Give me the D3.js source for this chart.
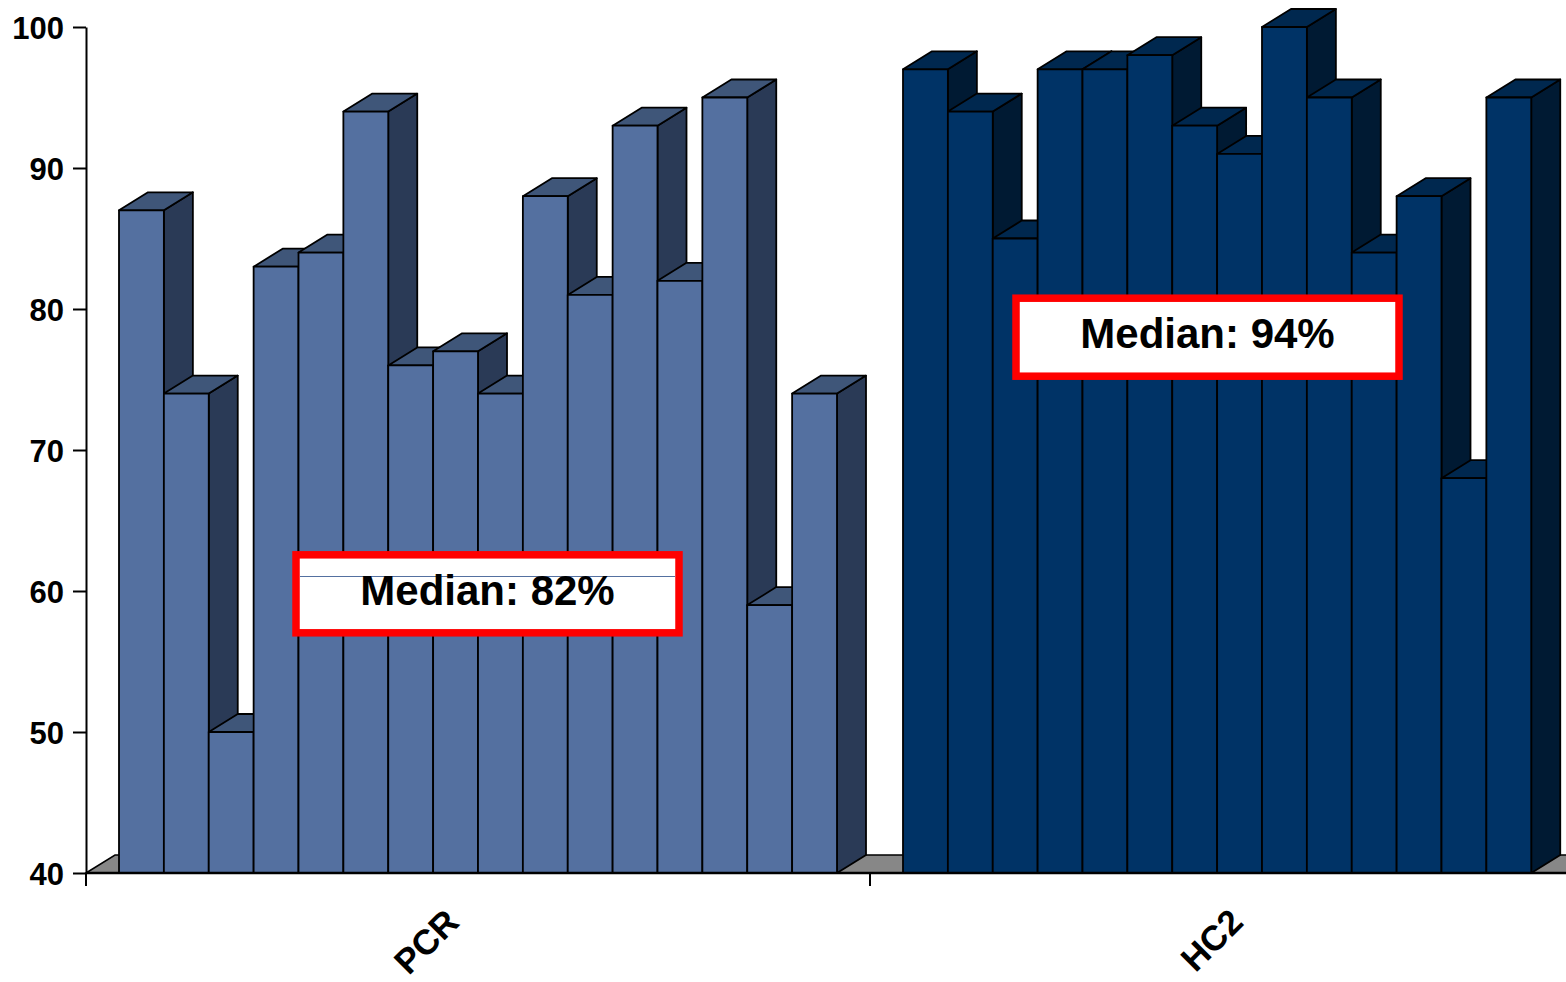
<!DOCTYPE html>
<html>
<head>
<meta charset="utf-8">
<script src="https://cdn.jsdelivr.net/npm/d3@7"></script>
<style>
  html, body { margin: 0; padding: 0; background: #ffffff; }
  svg { display: block; }
  text { font-family: "Liberation Sans", Arial, Helvetica, sans-serif; font-weight: bold; fill: #000; }
</style>
</head>
<body>
<svg id="chart" width="1566" height="982"></svg>
<script>
// Detection rate per study, grouped by assay
const categories = ["PCR", "HC2"];
const pcrValues = [87, 74, 50, 83, 84, 94, 76, 77, 74, 88, 81, 93, 82, 95, 59, 74];
const hc2Values = [97, 94, 85, 97, 97, 98, 93, 91, 100, 95, 84, 88, 68, 95];
const yTicks = [40, 50, 60, 70, 80, 90, 100];
const medianLabels = ["Median: 82%", "Median: 94%"];
const medianLevels = [59.8, 78];

const seriesByCategory = { PCR: pcrValues, HC2: hc2Values };
const palette = {
  PCR: { front: "#5470a0", top: "#3f5679", side: "#2a3a56" },
  HC2: { front: "#003366", top: "#00284f", side: "#001a33" }
};

const svg = d3.select("#chart");
const depthX = 29, depthY = -18;
const baseValue = 40;

const y = d3.scaleLinear().domain([40, 100]).range([873, 27]);
const xCat = d3.scaleBand().domain(categories).range([86, 86 + 2 * 784]).paddingInner(0).paddingOuter(0);
const slots = d3.max(categories, c => seriesByCategory[c].length);
const xBar = d3.scaleBand().domain(d3.range(slots)).range([0, xCat.bandwidth()])
  .paddingInner(0).paddingOuter(33 / ((xCat.bandwidth() - 66) / slots));

const yBase = y(baseValue);
const xEnd = xCat.range()[1];

// floor of the 3D plot
svg.append("polygon")
  .attr("points", [[86, yBase], [86 + depthX, yBase + depthY], [xEnd + depthX, yBase + depthY], [xEnd, yBase]].join(" "))
  .attr("fill", "#878787").attr("stroke", "#000").attr("stroke-width", 1.5);

// 3D bars, drawn left to right so each face overlaps correctly
categories.forEach(cat => {
  const g = svg.append("g").attr("class", "bars-" + cat);
  const col = palette[cat];
  seriesByCategory[cat].forEach((v, i) => {
    const x0 = xCat(cat) + xBar(i);
    const w = xBar.bandwidth();
    const yt = y(v);
    const bar = g.append("g");
    bar.append("polygon")
      .attr("points", [[x0 + w, yt], [x0 + w + depthX, yt + depthY], [x0 + w + depthX, yBase + depthY], [x0 + w, yBase]].join(" "))
      .attr("fill", col.side);
    bar.append("polygon")
      .attr("points", [[x0, yt], [x0 + depthX, yt + depthY], [x0 + w + depthX, yt + depthY], [x0 + w, yt]].join(" "))
      .attr("fill", col.top);
    bar.append("rect")
      .attr("x", x0).attr("y", yt).attr("width", w).attr("height", yBase - yt)
      .attr("fill", col.front);
    bar.selectAll("polygon, rect")
      .attr("stroke", "#000").attr("stroke-width", 1.8).attr("stroke-linejoin", "round");
  });
});

// value axis
const yAxis = d3.axisLeft(y).tickValues(yTicks).tickSize(13).tickSizeOuter(0).tickPadding(9);
const ya = svg.append("g").attr("transform", "translate(86,0)").call(yAxis);
ya.select(".domain").attr("stroke", "#000").attr("stroke-width", 2);
ya.selectAll(".tick line").attr("stroke", "#000").attr("stroke-width", 2);
ya.selectAll(".tick text").attr("font-size", 31).attr("font-family", "Liberation Sans, Arial, sans-serif")
  .attr("font-weight", "bold").attr("fill", "#000").attr("dy", "0.36em");

// category axis: baseline, boundary ticks and rotated labels
svg.append("line").attr("x1", 86).attr("x2", xEnd).attr("y1", yBase).attr("y2", yBase)
  .attr("stroke", "#000").attr("stroke-width", 2.5);
const bounds = categories.map(c => xCat(c)).concat([xEnd]);
svg.selectAll(".cat-tick").data(bounds).join("line")
  .attr("class", "cat-tick")
  .attr("x1", d => d).attr("x2", d => d).attr("y1", yBase).attr("y2", yBase + 13)
  .attr("stroke", "#000").attr("stroke-width", 2);
svg.selectAll(".cat-label").data(categories).join("text")
  .attr("class", "cat-label")
  .attr("transform", d => `translate(${xCat(d) + xCat.bandwidth() / 2 - 17},${yBase + 51}) rotate(-45)`)
  .attr("text-anchor", "end")
  .attr("font-size", 35)
  .text(d => d);

// median annotations
const boxW = 383, boxH = 78;
const boxCenters = [xCat("PCR") + 401.5, xCat("HC2") + 337.5];
medianLabels.forEach((label, i) => {
  const cx = boxCenters[i];
  const cy = y(medianLevels[i]);
  const g = svg.append("g");
  g.append("rect")
    .attr("x", cx - boxW / 2).attr("y", cy - boxH / 2)
    .attr("width", boxW).attr("height", boxH)
    .attr("fill", "#fff").attr("stroke", "#ff0000").attr("stroke-width", 7.5);
  if (i === 0) {
    const ly = Math.round(cy - 18) + 0.5;
    g.append("line")
      .attr("x1", cx - boxW / 2 + 4).attr("x2", cx + boxW / 2 - 4)
      .attr("y1", ly).attr("y2", ly)
      .attr("stroke", palette.PCR.front).attr("stroke-width", 1);
  }
  g.append("text")
    .attr("x", cx).attr("y", cy + 11)
    .attr("text-anchor", "middle")
    .attr("font-size", 42)
    .text(label);
});
</script>
</body>
</html>
